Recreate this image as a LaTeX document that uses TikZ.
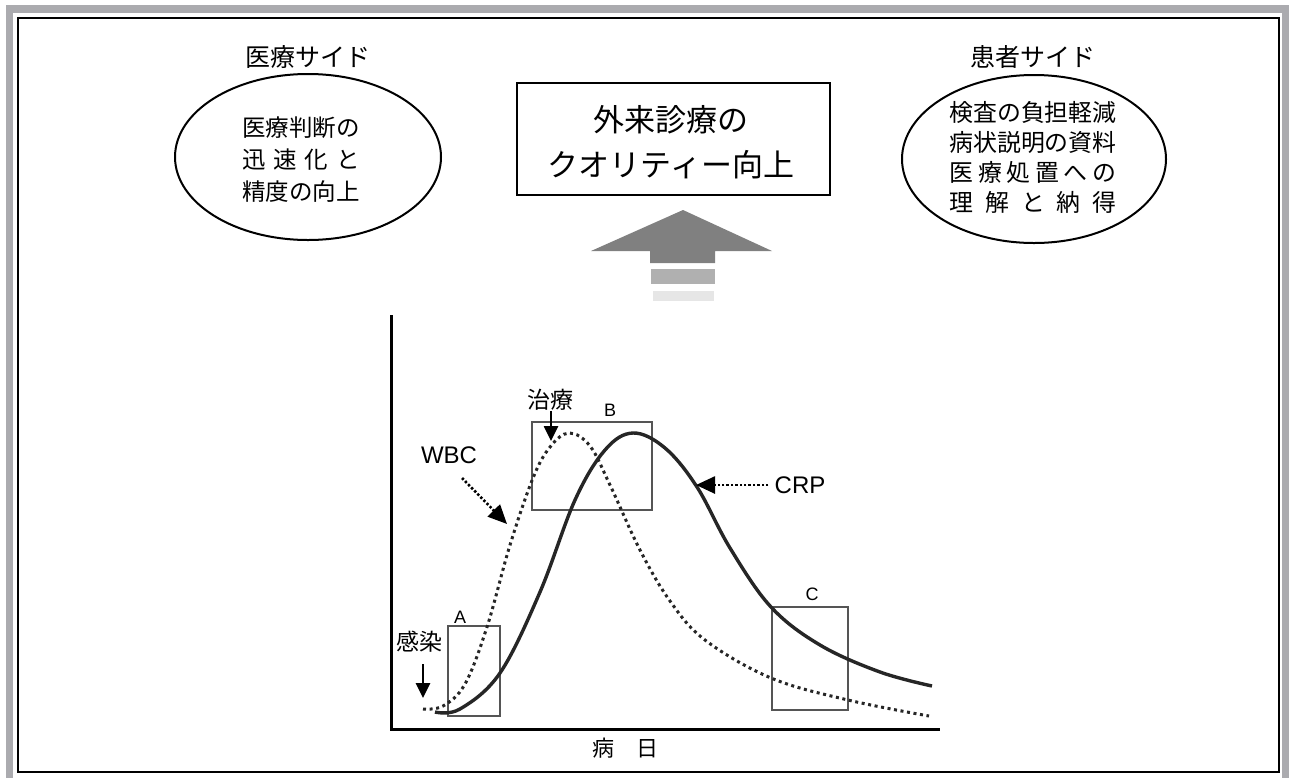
\documentclass[tikz,border=0pt]{standalone}
\usepackage{fontspec}
\setmainfont{Liberation Sans}
\newfontfamily\jp{Noto Sans CJK JP}
\usetikzlibrary{arrows.meta}
\definecolor{band}{HTML}{ABABAF}
\definecolor{thin}{HTML}{B8B8B8}
\definecolor{curve}{HTML}{262626}
\definecolor{boxgray}{HTML}{555555}
\definecolor{arr1}{HTML}{808080}
\definecolor{arr2}{HTML}{B0B0B0}
\definecolor{arr3}{HTML}{E6E6E6}
\begin{document}
\begin{tikzpicture}[x=1pt,y=-1pt,
  jtitle/.style={font=\jp\fontsize{25}{30}\selectfont, inner sep=0pt},
  jtext/.style={font=\jp\fontsize{23.5}{32}\selectfont, align=center, inner sep=0pt},
  jlab/.style={font=\jp\fontsize{23}{28}\selectfont, inner sep=0pt},
  latlab/.style={font=\fontsize{24}{28}\selectfont, inner sep=0pt},
  boxlab/.style={font=\fontsize{18}{20}\selectfont, inner sep=0pt},
  oval/.style={draw, line width=2pt},
  zone/.style={draw=boxgray, line width=1.3pt},
  solidc/.style={draw=curve, line width=3.4pt},
  dotc/.style={draw=curve, line width=3pt, dash pattern=on 3pt off 3.6pt},
  ptr/.style={line width=2.6pt, -{Triangle[length=15pt,width=14pt]}},
  dptr/.style={line width=2.6pt, dash pattern=on 2.4pt off 2pt, -{Triangle[length=19pt,width=17pt]}}
]
\path[use as bounding box] (0,0) rectangle (1289,777);
\clip (0,0) rectangle (1289,777);
\fill[white] (0,0) rectangle (1289,777);
% frame
\draw[band, line width=7.5pt] (9.5,9) rectangle (1285.5,800);
\draw[thin, line width=1.6pt] (18,18) rectangle (1279,772);

% top texts
\node[jtitle] (lt) at (308,57) {医療サイド};
\node[jtitle] (rt) at (1033,57) {患者サイド};
\draw[oval] (308,157) ellipse [x radius=133, y radius=83];
\draw[oval] (1034,159) ellipse [x radius=132, y radius=84];
\node[jtext] (ltx) at (301,160) {医療判断の\\\makebox[117.5pt][s]{迅 速 化 と}\\精度の向上};
\node[jtext, font=\jp\fontsize{23.9}{30}\selectfont] (rtx) at (1033,157)
  {検査の負担軽減\\病状説明の資料\\\makebox[167pt][s]{医 療 処 置 へ の}\\\makebox[167pt][s]{理 解 と 納 得}};

% center box
\node[draw, line width=2pt, minimum width=313pt, minimum height=112pt, inner sep=0pt] (cb) at (673.5,139) {};
\node[font=\jp\fontsize{31}{45}\selectfont, align=center, inner sep=0pt] (cbt) at (671,142) {外来診療の\\クオリティー向上};

% big arrow
\fill[arr1] (683,210) -- (772,251) -- (715,251) -- (715,263) -- (650,263) -- (650,251) -- (591,251) -- cycle;
\fill[arr2] (651,269) rectangle (715,284);
\fill[arr3] (653,291) rectangle (714,301);

% axes
\coordinate (o) at (391,729);
\coordinate (ytop) at (391,315);
\coordinate (xend) at (940,729);
\draw[line width=3pt] (ytop) -- (o) -- (xend);
\node[jlab, font=\jp\fontsize{22}{26}\selectfont] (xl) at (625,748) {病　日};

% zones
\draw[zone] (448,626) rectangle (500,716);
\draw[zone] (532,422) rectangle (652,510);
\draw[zone] (772,607) rectangle (848,710);
\node[boxlab] (la) at (460,617) {A};
\node[boxlab] (lb) at (610,410) {B};
\node[boxlab] (lc) at (812,594) {C};

% curves
\draw[dotc] plot[smooth, tension=0.6] coordinates {(423,709) (443,706) (465,684) (487,627) (510,545) (533,478) (550,447) (569,433) (590,446) (610,485) (640,550) (670,601) (705,640) (771,678) (848,700) (929,716)};
\draw[solidc] plot[smooth, tension=0.6] coordinates {(435,712) (460,709) (500,673) (540,592) (575,500) (605,450) (633,433) (665,448) (697,487) (730,548) (771,607) (820,645) (880,672) (932,686)};

% labels and pointers
\node[jlab] (kan) at (419,642) {感染};
\coordinate (kantip) at (423,698);
\draw[ptr] (423,664) -- (kantip);
\node[jlab] (chi) at (550,400) {治療};
\coordinate (chitip) at (551,441);
\draw[ptr] (chi.south -| chitip) -- (chitip);
\node[latlab] (wbc) at (449,455) {WBC};
\coordinate (wbctip) at (507,524);
\draw[dptr] (462,478) -- (wbctip);
\node[latlab] (crp) at (800,485) {CRP};
\coordinate (crptip) at (696,485);
\draw[dptr] (crp.west) ++(-6,0) -- (crptip);
\end{tikzpicture}
\end{document}
